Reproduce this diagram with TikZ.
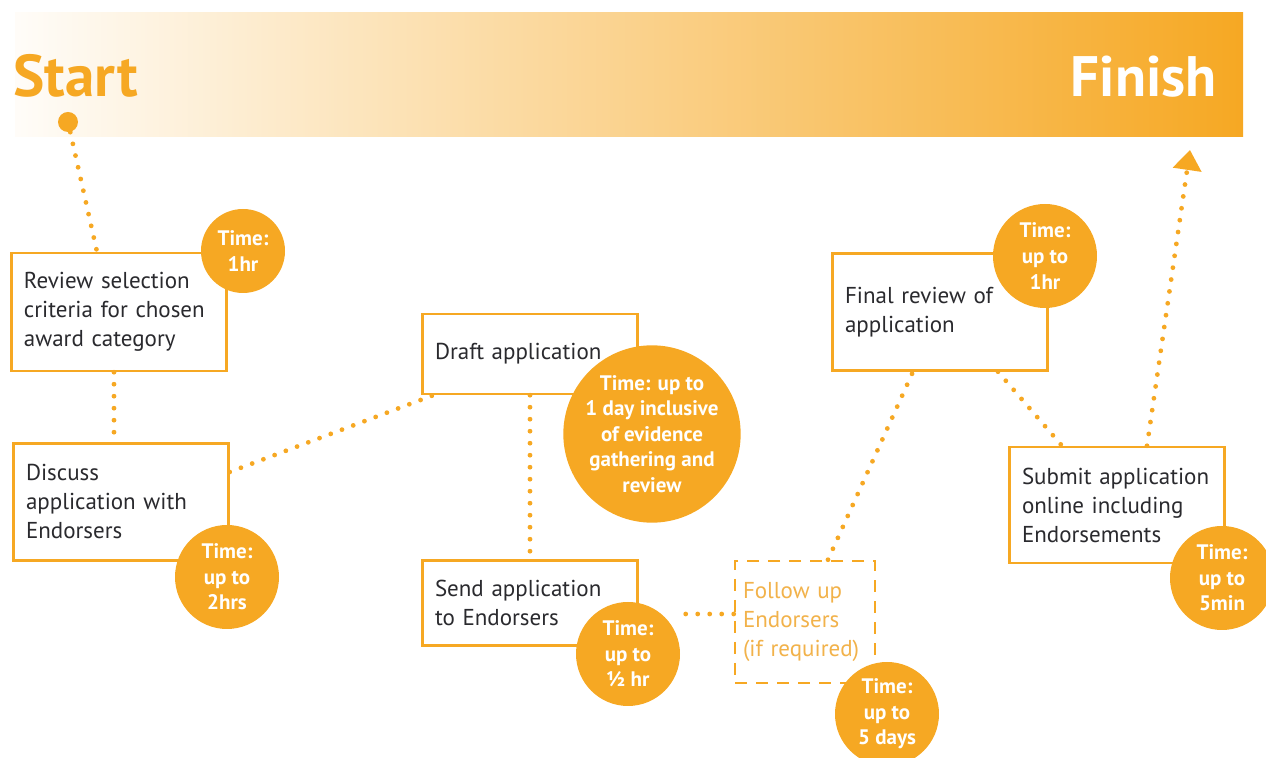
\documentclass[tikz,border=0pt]{standalone}
\usepackage{fontspec}
\setmainfont{PT Sans}
\usetikzlibrary{arrows.meta}

\definecolor{awardOrange}{HTML}{F6A823}
\definecolor{awardText}{HTML}{2A2A2E}
\definecolor{awardFollow}{HTML}{F2B24A}

\tikzstyle{myBox} = [draw=awardOrange, fill=white, line width=1.2pt,
    rectangle, inner xsep=6.25pt, text width=95pt, align=left,
    text=awardText, font=\fontsize{11.5}{14.5}\selectfont]
\tikzstyle{myTime} = [fill=awardOrange, circle, inner sep=0pt,
    align=center, text=white, font=\bfseries\fontsize{10.5}{12.8}\selectfont]
\tikzstyle{myDots} = [draw=awardOrange, line width=2.4pt, line cap=round,
    dash pattern=on 0pt off 6pt]
\tikzstyle{myTitle} = [inner sep=0pt, font=\bfseries\fontsize{29.5}{31}\selectfont]

\begin{document}
\hyphenpenalty=10000
\begin{tikzpicture}[x=0.5pt, y=-0.5pt]

\useasboundingbox (0,0) rectangle (1266,758);
\shade[left color=awardOrange!3, middle color=awardOrange!30,
    right color=awardOrange] (15,13) rectangle (1243,137);

\node[myTitle] (Start) at (13,97) [anchor=base west, text=awardOrange] {Start};
\node[myTitle] (Finish) at (1217,97) [anchor=base east, text=white,
    font=\bfseries\fontsize{28.5}{30}\selectfont] {Finish};
\node (StartDot) at (68,122) [circle, fill=awardOrange, inner sep=0pt, minimum size=10pt] {};
\coordinate (FinishTip) at (1190,150);

\node[myBox] (Review) at (119,312) [minimum height=59pt] {Review selection\\criteria for chosen\\award category};
\node[myBox] (Discuss) at (121,502) [minimum height=58.5pt] {Discuss\\application with\\Endorsers};
\node[myBox] (Draft) at (530,354) [minimum height=40pt] {Draft application};
\node[myBox] (Send) at (530,603) [minimum height=42.5pt] {Send application\\to Endorsers};
\node[myBox] (FollowUp) at (805,622) [line width=1.3pt, dash pattern=on 6pt off 4.5pt,
    text width=62pt, inner xsep=4pt, minimum height=61pt, text=awardFollow] {Follow up\\Endorsers\\(if required)};
\node[myBox] (FinalReview) at (940,312) [minimum height=58.5pt] {Final review of\\application};
\node[myBox] (Submit) at (1117,505) [minimum height=58pt] {Submit application\\online including\\Endorsements};

  \node[myTime] (TimeReview) at (243,251) [minimum size=42pt] {Time:\\1hr};
  \node[myTime] (TimeDiscuss) at (227,577) [minimum size=52pt] {Time:\\up to\\2hrs};
  \node[myTime] (TimeDraft) at (652,434) [minimum size=85pt] {Time: up to\\1 day inclusive\\of evidence\\gathering and\\review};
  \node[myTime] (TimeSend) at (628,654) [minimum size=52pt] {Time:\\up to\\½ hr};
  \node[myTime] (TimeFollowUp) at (887,714) [minimum size=52pt] {Time:\\up to\\5 days};
  \node[myTime] (TimeFinal) at (1045,256) [minimum size=52pt] {Time:\\up to\\1hr};
  \node[myTime] (TimeSubmit) at (1222,578) [minimum size=52pt] {Time:\\up to\\5min};

\draw[myDots] (StartDot) -- ([xshift=-11pt]Review.north);
\draw[myDots] ([xshift=-2.5pt]Review.south) -- ([xshift=-3.5pt]Discuss.north);
\draw[myDots] ([yshift=15pt]Discuss.east) -- ([xshift=6pt]Draft.south west);
\draw[myDots] (Draft.south) -- (Send.north);
\draw[myDots] ([yshift=4pt]FollowUp.west) -- ([yshift=4pt]FollowUp.west -| TimeSend.east);
\draw[myDots] ([xshift=11.5pt]FollowUp.north) -- ([xshift=-13.5pt]FinalReview.south);
\draw[myDots] ([xshift=29pt]FinalReview.south) -- ([xshift=-27.5pt]Submit.north);
\draw[myDots, -{Triangle[length=10pt, width=14pt]}] ([xshift=15pt]Submit.north) -- (FinishTip);

\end{tikzpicture}
\end{document}
